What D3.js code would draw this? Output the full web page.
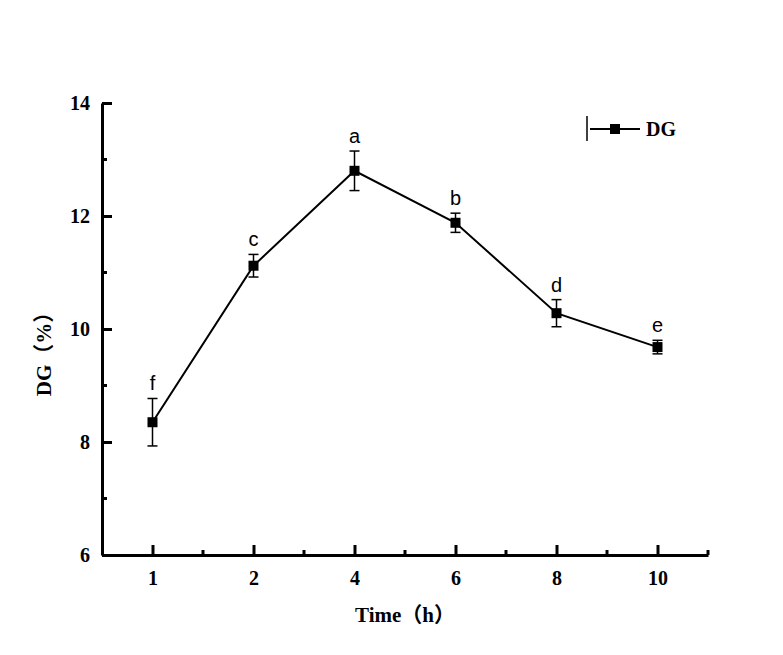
<!DOCTYPE html>
<html>
<head>
<meta charset="utf-8">
<script src="https://cdn.jsdelivr.net/npm/d3@7/dist/d3.min.js"></script>
<style>
  body { margin: 0; background: #fff; }
  svg text { fill: #000; }
  .tick text { font-family: "Liberation Serif", "Times New Roman", serif; font-weight: bold; font-size: 20px; }
</style>
</head>
<body>
<svg id="chart"></svg>
<script>
// data
let times = ['1', '2', '4', '6', '8', '10']
let dgValues = [8.35, 11.12, 12.80, 11.88, 10.28, 9.68]
let dgErrors = [0.42, 0.20, 0.35, 0.17, 0.24, 0.12]
let letters = ['f', 'c', 'a', 'b', 'd', 'e']
let yMajor = [6, 8, 10, 12, 14]
let yMinor = [7, 9, 11, 13]

const labelFont = '"Liberation Serif", "Noto Sans CJK SC", serif'

function getConfig(){
    let width = 783
    let height = 655
    let margin = { top: 103, bottom: 100, left: 102, right: 75 }
    let bodyHeight = height - margin.top - margin.bottom
    let bodyWidth = width - margin.left - margin.right
    let container = d3.select('#chart')
        .attr('width', width)
        .attr('height', height)
    return { width, height, margin, bodyHeight, bodyWidth, container }
}

function getScales(config){
    let xScale = d3.scalePoint()
        .domain(times)
        .range([0, config.bodyWidth])
        .padding(0.5)
    let yScale = d3.scaleLinear()
        .domain([6, 14])
        .range([config.bodyHeight, 0])
    return { xScale, yScale }
}

function drawAxes(scales, config){
    let { xScale, yScale } = scales
    let { container, margin } = config
    let step = xScale.step()

    // minor ticks first, majors on top
    let minorX = times.map(t => xScale(t) + step / 2)
    container.append('g')
        .attr('transform', `translate(${margin.left},${margin.top + config.bodyHeight})`)
        .selectAll('line').data(minorX).join('line')
        .attr('x1', d => d).attr('x2', d => d)
        .attr('y1', 0).attr('y2', -5)
        .attr('stroke', '#000').attr('stroke-width', 3)

    container.append('g')
        .attr('transform', `translate(${margin.left},${margin.top})`)
        .selectAll('line').data(yMinor).join('line')
        .attr('y1', d => yScale(d)).attr('y2', d => yScale(d))
        .attr('x1', 0).attr('x2', 5)
        .attr('stroke', '#000').attr('stroke-width', 3)

    let axisX = d3.axisBottom(xScale).tickSize(-10).tickSizeOuter(0).tickPadding(16)
    let gx = container.append('g')
        .attr('transform', `translate(${margin.left},${margin.top + config.bodyHeight})`)
        .call(axisX)

    let axisY = d3.axisLeft(yScale).tickValues(yMajor).tickSize(-10).tickSizeOuter(0).tickPadding(12)
    let gy = container.append('g')
        .attr('transform', `translate(${margin.left},${margin.top})`)
        .call(axisY)

    for (let g of [gx, gy]) {
        g.select('.domain').attr('stroke', '#000').attr('stroke-width', 3)
        g.selectAll('.tick line').attr('stroke', '#000').attr('stroke-width', 3)
    }

    container.append('text')
        .attr('x', margin.left + config.bodyWidth / 2)
        .attr('y', 622)
        .attr('text-anchor', 'middle')
        .style('font-family', labelFont)
        .style('font-weight', 'bold')
        .style('font-size', '21px')
        .text('Time（h）')

    container.append('text')
        .attr('transform', 'translate(51,349) rotate(-90)')
        .attr('text-anchor', 'middle')
        .style('font-family', labelFont)
        .style('font-weight', 'bold')
        .style('font-size', '21px')
        .text('DG（%）')
}

function drawSeries(scales, config){
    let { xScale, yScale } = scales
    let { container, margin } = config
    let data = times.map((t, i) => ({ t, v: dgValues[i], e: dgErrors[i], l: letters[i] }))
    let body = container.append('g')
        .attr('transform', `translate(${margin.left},${margin.top})`)

    let line = d3.line().x(d => xScale(d.t)).y(d => yScale(d.v))
    body.append('path')
        .datum(data)
        .attr('d', line)
        .attr('fill', 'none')
        .attr('stroke', '#000')
        .attr('stroke-width', 2)

    let err = body.selectAll('.err').data(data).join('g').attr('class', 'err')
        .attr('stroke', '#000').attr('stroke-width', 1.5)
    err.append('line')
        .attr('x1', d => xScale(d.t)).attr('x2', d => xScale(d.t))
        .attr('y1', d => yScale(d.v + d.e)).attr('y2', d => yScale(d.v - d.e))
    err.append('line')
        .attr('x1', d => xScale(d.t) - 5).attr('x2', d => xScale(d.t) + 5)
        .attr('y1', d => yScale(d.v + d.e)).attr('y2', d => yScale(d.v + d.e))
    err.append('line')
        .attr('x1', d => xScale(d.t) - 5).attr('x2', d => xScale(d.t) + 5)
        .attr('y1', d => yScale(d.v - d.e)).attr('y2', d => yScale(d.v - d.e))

    body.selectAll('.pt').data(data).join('rect')
        .attr('class', 'pt')
        .attr('x', d => xScale(d.t) - 5)
        .attr('y', d => yScale(d.v) - 5)
        .attr('width', 10).attr('height', 10)
        .attr('fill', '#000')

    body.selectAll('.sig').data(data).join('text')
        .attr('class', 'sig')
        .attr('x', d => xScale(d.t))
        .attr('y', d => yScale(d.v + d.e) - 8)
        .attr('text-anchor', 'middle')
        .style('font-family', '"Liberation Sans", Arial, sans-serif')
        .style('font-size', '20px')
        .text(d => d.l)
}

function drawLegend(config){
    let { container } = config
    let lg = container.append('g').attr('transform', 'translate(587,129)')
    lg.append('line').attr('x1', 0).attr('x2', 0).attr('y1', -13).attr('y2', 12)
        .attr('stroke', '#000').attr('stroke-width', 1.5)
    lg.append('line').attr('x1', 3).attr('x2', 53).attr('y1', 0).attr('y2', 0)
        .attr('stroke', '#000').attr('stroke-width', 2)
    lg.append('rect').attr('x', 23).attr('y', -5).attr('width', 10).attr('height', 10)
        .attr('fill', '#000')
    lg.append('text').attr('x', 59).attr('y', 7)
        .style('font-family', labelFont)
        .style('font-weight', 'bold')
        .style('font-size', '20px')
        .text('DG')
}

let config = getConfig()
let scales = getScales(config)
drawAxes(scales, config)
drawSeries(scales, config)
drawLegend(config)
</script>
</body>
</html>
